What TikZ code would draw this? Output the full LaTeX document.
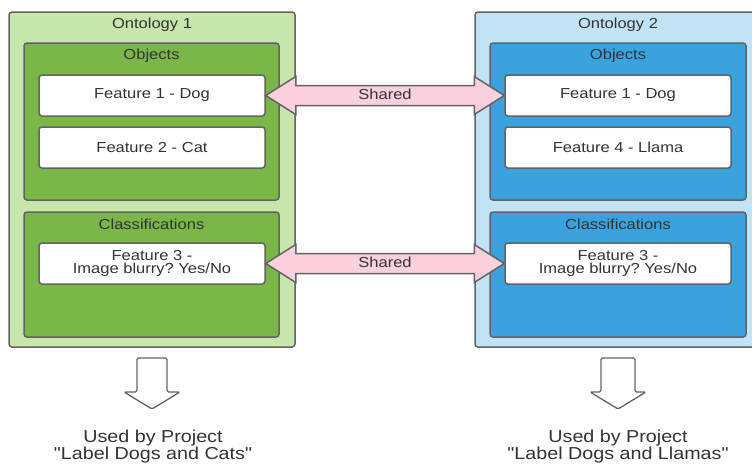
\documentclass[tikz,border=0pt]{standalone}
\usepackage{fontspec}
\setmainfont{Liberation Sans}[FakeStretch=1.14, Ligatures=TeXOff]
\usetikzlibrary{calc}
\frenchspacing
\definecolor{lgreen}{HTML}{C6E6AC}
\definecolor{dgreen}{HTML}{7AB648}
\definecolor{lblue}{HTML}{C2E3F5}
\definecolor{dblue}{HTML}{3AA2DC}
\definecolor{pinkc}{HTML}{F9D0DC}
\definecolor{edgec}{HTML}{636363}
\definecolor{txtc}{HTML}{333333}
\tikzset{
  box/.style={draw=edgec, line width=1.5pt, rounded corners=3pt, inner sep=0pt},
  outergreen/.style={box, fill=lgreen},
  innergreen/.style={box, fill=dgreen},
  outerblue/.style={box, fill=lblue},
  innerblue/.style={box, fill=dblue},
  featbox/.style={box, fill=white, minimum width=226pt, minimum height=41pt, align=center, text=txtc, font=\fontsize{14.5}{14.5}\selectfont},
  title/.style={text=txtc, font=\fontsize{14.5}{15}\selectfont, inner sep=0pt},
  sharedarrow/.style={draw=edgec, line width=1.5pt, fill=pinkc, line join=miter},
  downarrow/.style={draw=edgec, line width=1.3pt, fill=white, rounded corners=1.5pt},
  bottomtext/.style={text=txtc, align=center, font=\fontsize{17.3}{17}\selectfont, inner sep=0pt},
}
\begin{document}
\begin{tikzpicture}[x=1pt, y=-1pt]
\clip (0,0) rectangle (752,463);
\fill[white] (0,0) rectangle (752,463);
% Ontology 1
\node[outergreen, minimum width=286pt, minimum height=335pt] (ont1) at (152,179.5) {};
\node[title] (ont1t) at (152,25) {Ontology 1};
\node[innergreen, minimum width=255pt, minimum height=157pt] (obj1) at (151.5,121.5) {};
\node[title] (obj1t) at (151.5,55.5) {Objects};
\node[featbox] (f1L) at (152,95.5) {Feature 1 - Dog};
\node[featbox] (f2L) at (152,147.5) {Feature 2 - Cat};
\node[innergreen, minimum width=255pt, minimum height=125pt] (cls1) at (151.5,274.5) {};
\node[title] (cls1t) at (151.5,224.5) {Classifications};
\node[featbox] (f3L) at (152,263.5) {\raisebox{-1pt}{Feature 3 -}\\Image blurry? Yes/No};
% Ontology 2
\node[outerblue, minimum width=290pt, minimum height=335pt] (ont2) at (620,179.5) {};
\node[title] (ont2t) at (618,25) {Ontology 2};
\node[innerblue, minimum width=256pt, minimum height=157pt] (obj2) at (618,121.5) {};
\node[title] (obj2t) at (618,55.5) {Objects};
\node[featbox] (f1R) at (618,95.5) {Feature 1 - Dog};
\node[featbox] (f4R) at (618,147.5) {Feature 4 - Llama};
\node[innerblue, minimum width=256pt, minimum height=125pt] (cls2) at (618,274.5) {};
\node[title] (cls2t) at (618,224.5) {Classifications};
\node[featbox] (f3R) at (618,263.5) {\raisebox{-1pt}{Feature 3 -}\\Image blurry? Yes/No};
% Shared arrows
\draw[sharedarrow] (f1L.east) -- ++(30,-19) -- ++(0,9) -- ($(f1R.west)+(-30,-10)$) -- ++(0,-9) -- (f1R.west) -- ++(-30,19) -- ++(0,-9) -- ($(f1L.east)+(30,10)$) -- ++(0,9) -- cycle;
\node[title] (sh1) at ($(f1L.east)!0.5!(f1R.west)+(0,-1)$) {Shared};
\draw[sharedarrow] (f3L.east) -- ++(30,-19) -- ++(0,9) -- ($(f3R.west)+(-30,-10)$) -- ++(0,-9) -- (f3R.west) -- ++(-30,19) -- ++(0,-9) -- ($(f3L.east)+(30,10)$) -- ++(0,9) -- cycle;
\node[title] (sh2) at ($(f3L.east)!0.5!(f3R.west)+(0,-1)$) {Shared};
% Down arrows
\coordinate (d1) at (152,358);
\draw[downarrow] ($(d1)+(-15,0)$) -- ($(d1)+(15,0)$) -- ($(d1)+(15,34)$) -- ($(d1)+(28,34)$) -- ($(d1)+(0,51)$) -- ($(d1)+(-28,34)$) -- ($(d1)+(-15,34)$) -- cycle;
\coordinate (d2) at (618,358);
\draw[downarrow] ($(d2)+(-17,0)$) -- ($(d2)+(17,0)$) -- ($(d2)+(17,34)$) -- ($(d2)+(28,34)$) -- ($(d2)+(0,51)$) -- ($(d2)+(-28,34)$) -- ($(d2)+(-17,34)$) -- cycle;
% Bottom texts
\node[bottomtext] (p1) at (153,447) {Used by Project\\"Label Dogs and Cats"};
\node[bottomtext] (p2) at (618,447) {Used by Project\\"Label Dogs and Llamas"};
\end{tikzpicture}
\end{document}
